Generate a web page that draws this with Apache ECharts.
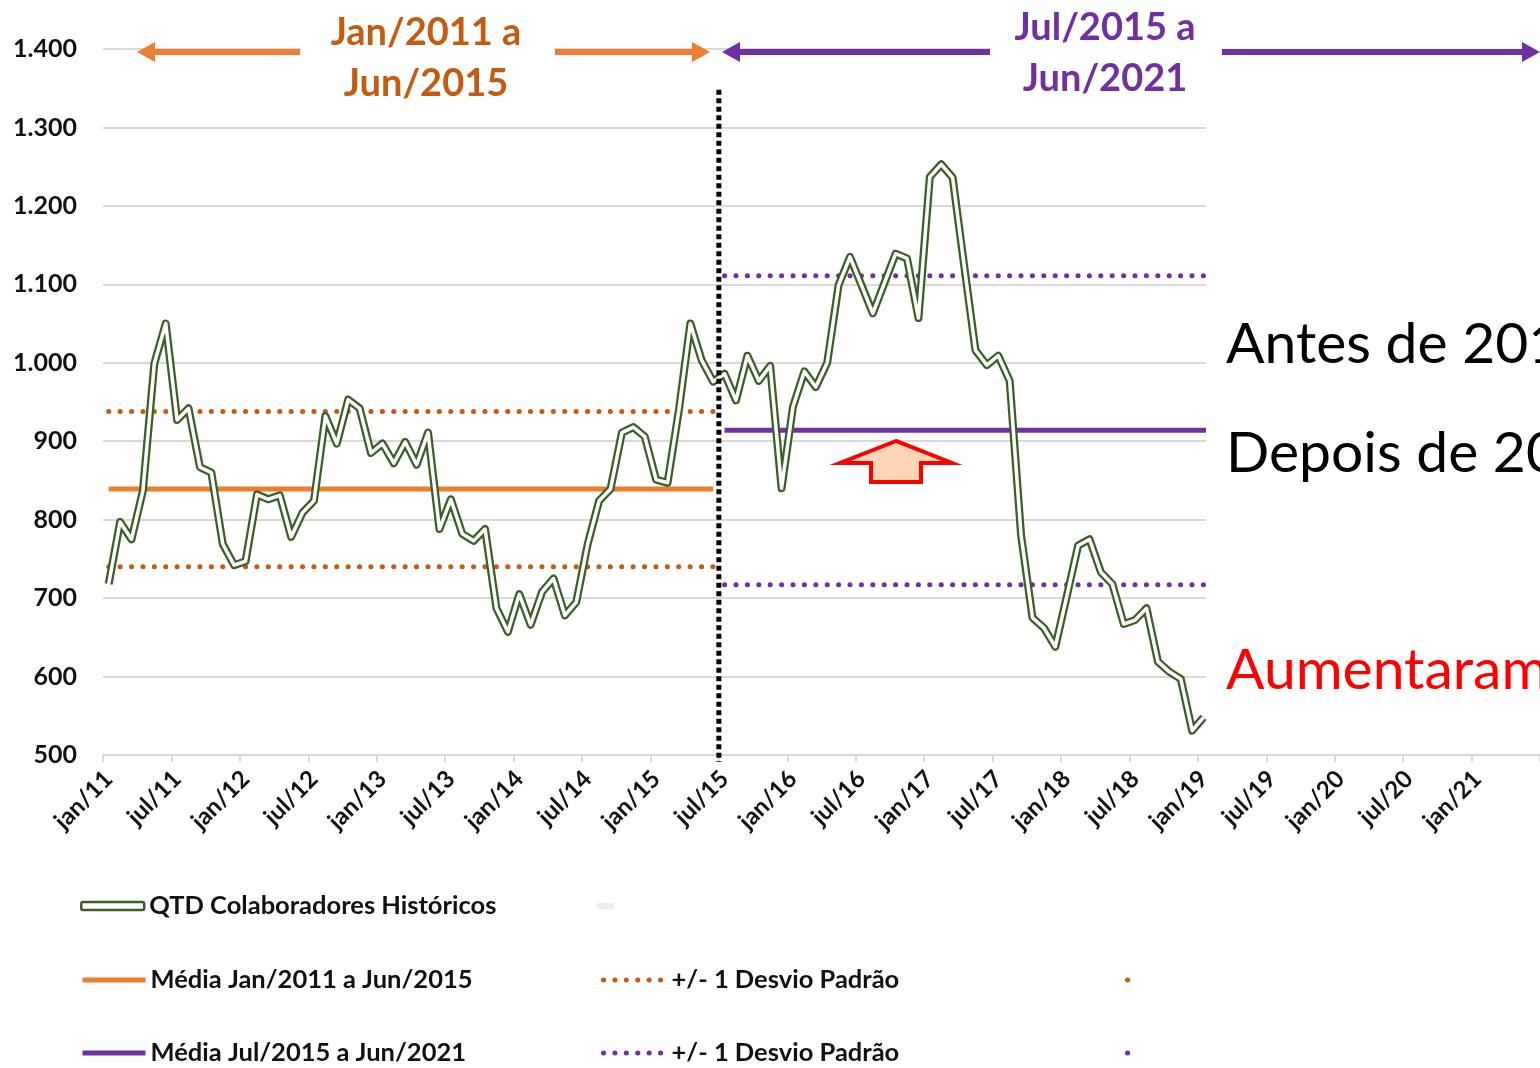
<!DOCTYPE html>
<html>
<head>
<meta charset="utf-8">
<title>QTD Colaboradores</title>
<script src="https://cdn.jsdelivr.net/npm/echarts@6/dist/echarts.min.js"></script>
<style>
  html, body { margin: 0; padding: 0; background: #fff; }
  #chart { width: 1540px; height: 1068px; }
</style>
</head>
<body>
<div id="chart"></div>
<script>
// month labels, jan/11 .. jun/21
const MONTHS = ["jan", "fev", "mar", "abr", "mai", "jun", "jul", "ago", "set", "out", "nov", "dez"];
const YEARS = ["11", "12", "13", "14", "15", "16", "17", "18", "19", "20", "21"];
const CATS = [];
YEARS.forEach(y => MONTHS.forEach(m => CATS.push(m + "/" + y)));
CATS.length = CATS.indexOf("jun/21") + 1;

// QTD colaboradores, monthly from jan/11
const QTD = [
  718, 797, 775, 837, 999, 1050, 927, 942, 867, 860, 769, 742,
  747, 832, 826, 831, 778, 809, 824, 932, 897, 953, 942, 885,
  897, 872, 899, 870, 911, 788, 826, 782, 773, 788, 687, 657,
  705, 666, 708, 725, 678, 695, 769, 824, 839, 911, 918, 906,
  851, 847, 940, 1050, 1003, 976, 986, 952, 1009, 977, 996, 840,
  944, 989, 969, 1000, 1099, 1135, 1099, 1063, 1101, 1139, 1133, 1057,
  1237, 1253, 1236, 1125, 1016, 997, 1009, 977, 780, 675, 662, 638,
  702, 767, 775, 733, 718, 667, 672, 687, 619, 606, 597, 531,
  548
];

const PERIOD_A = ["jan/11", "jun/15"];
const PERIOD_B = ["jul/15", "jun/21"];
const MEAN_A = 839, SD_A = [938, 740];
const MEAN_B = 914, SD_B = [1111, 717];
const Y_MIN = 500, Y_MAX = 1400, Y_STEP = 100;

const GREEN = "#3B5E27";
const ORANGE = "#ED7D31";
const ORANGE_DK = "#C55A11";
const PURPLE = "#7030A0";
const GRID = "#D9D9D9";
const FONT = "Lato";

const chart = echarts.init(document.getElementById("chart"));

function flat(period, v) {
  return [[period[0], v], [period[1], v]];
}
const dots = (color) => ({ color: color, width: 5, type: [0.1, 11.3], cap: "round" });

function arrow(xFrom, xTip, y, color) {
  const dir = xTip > xFrom ? 1 : -1;
  const base = xTip - dir * 18;
  return [
    { type: "line", z: 110, shape: { x1: xFrom, y1: y, x2: base, y2: y },
      style: { stroke: color, lineWidth: 6 } },
    { type: "polygon", z: 110, shape: { points: [[xTip, y], [base, y - 10], [base, y + 10]] },
      style: { fill: color } }
  ];
}

function legendAt(left, top, name, extra) {
  return Object.assign({
    left: left, top: top, padding: 0, orient: "horizontal",
    itemWidth: 63, itemHeight: 8, selectedMode: false,
    textStyle: { fontFamily: FONT, fontWeight: "bold", fontSize: 25.5, color: "#111" },
    lineStyle: { width: 5 },
    itemStyle: { opacity: 0 },
    data: [name]
  }, extra || {});
}

const option = {
  animation: false,
  backgroundColor: "#fff",
  grid: { left: 103, top: 49, width: 1439, height: 706, containLabel: false },
  xAxis: [{
    type: "category",
    data: CATS,
    boundaryGap: true,
    axisLine: { lineStyle: { color: GRID, width: 2 } },
    axisTick: { show: true, interval: 5, length: 7, lineStyle: { color: GRID, width: 2 } },
    axisLabel: {
      interval: 5, rotate: 45, margin: 20,
      fontFamily: FONT, fontWeight: "bold", fontSize: 24, color: "#111"
    },
    splitLine: { show: false }
  }, {
    type: "value", min: 0, max: CATS.length, show: false
  }],
  yAxis: {
    type: "value",
    min: Y_MIN, max: Y_MAX, interval: Y_STEP,
    axisLine: { show: false },
    axisTick: { show: false },
    axisLabel: {
      margin: 26,
      fontFamily: FONT, fontWeight: "bold", fontSize: 25, color: "#111",
      formatter: v => v >= 1000 ? Math.floor(v / 1000) + "." + String(v % 1000).padStart(3, "0") : String(v)
    },
    splitLine: { lineStyle: { color: GRID, width: 2 } }
  },
  legend: [
    legendAt(80, 893, { name: "QTD Colaboradores Históricos", icon: "roundRect",
      itemStyle: { color: "#fff", borderColor: GREEN, borderWidth: 2.5, opacity: 1 } }),
    legendAt(597, 903, { name: "\u2060", icon: "rect", itemStyle: { color: "#EEEEEE", opacity: 1 } },
      { itemWidth: 17, itemHeight: 6, formatter: () => "" }),
    legendAt(80, 967, "Média Jan/2011 a Jun/2015"),
    legendAt(601, 967, "+/- 1 Desvio Padrão"),
    legendAt(1125, 976, "\u200b", { itemWidth: 4, formatter: () => "" }),
    legendAt(80, 1040, "Média Jul/2015 a Jun/2021"),
    legendAt(601, 1040, "+/- 1 Desvio Padrão "),
    legendAt(1125, 1049, "\u200b\u200b", { itemWidth: 4, formatter: () => "" })
  ],
  series: [
    {
      name: "Média Jan/2011 a Jun/2015", type: "line", symbol: "none", z: 3,
      data: flat(PERIOD_A, MEAN_A), lineStyle: { color: ORANGE, width: 5 }, itemStyle: { color: ORANGE }
    },
    {
      name: "+/- 1 Desvio Padrão", type: "line", symbol: "none", z: 3,
      data: flat(PERIOD_A, SD_A[0]), lineStyle: dots(ORANGE_DK), itemStyle: { color: ORANGE_DK }
    },
    {
      name: "\u200b", type: "line", symbol: "none", z: 3,
      data: flat(PERIOD_A, SD_A[1]), lineStyle: dots(ORANGE_DK), itemStyle: { color: ORANGE_DK }
    },
    {
      name: "Média Jul/2015 a Jun/2021", type: "line", symbol: "none", z: 3,
      data: flat(PERIOD_B, MEAN_B), lineStyle: { color: PURPLE, width: 5 }, itemStyle: { color: PURPLE }
    },
    {
      name: "+/- 1 Desvio Padrão ", type: "line", symbol: "none", z: 3,
      data: flat(PERIOD_B, SD_B[0]), lineStyle: dots(PURPLE), itemStyle: { color: PURPLE }
    },
    {
      name: "\u200b\u200b", type: "line", symbol: "none", z: 3,
      data: flat(PERIOD_B, SD_B[1]), lineStyle: dots(PURPLE), itemStyle: { color: PURPLE }
    },
    {
      name: "QTD Colaboradores Históricos", type: "line", symbol: "none", z: 5,
      data: QTD, lineStyle: { color: GREEN, width: 8, join: "round" }, itemStyle: { color: GREEN }
    },
    {
      name: "qtd-inner", type: "line", symbol: "none", z: 6, silent: true,
      data: QTD, lineStyle: { color: "#fff", width: 3.5, join: "round" }
    },
    {
      // divider between the two periods
      name: "\u2060", type: "line", symbol: "none", z: 7, clip: false,
      xAxisIndex: 1,
      data: [[CATS.indexOf(PERIOD_B[0]), 1348], [CATS.indexOf(PERIOD_B[0]), 491]],
      lineStyle: { color: "#000", width: 5, type: [5, 3.5] }, itemStyle: { color: "#000" }
    }
  ],
  graphic: [
    // white panel on the right with the notes
    { type: "rect", z: 100, shape: { x: 1206, y: 44, width: 340, height: 704 }, style: { fill: "#fff" } },
    { type: "rect", z: 100, shape: { x: 301, y: 0, width: 253, height: 110 }, style: { fill: "#fff" } },
    { type: "rect", z: 100, shape: { x: 991, y: 0, width: 230, height: 110 }, style: { fill: "#fff" } },
    ...arrow(300, 137, 52, ORANGE),
    ...arrow(555, 710, 52, ORANGE),
    ...arrow(990, 722, 52, PURPLE),
    ...arrow(1222, 1540, 52, PURPLE),
    { type: "text", z: 120, x: 426, y: 33,
      style: { text: "Jan/2011 a", fill: ORANGE_DK, font: "bold 38px " + FONT, align: "center", verticalAlign: "middle" } },
    { type: "text", z: 120, x: 426, y: 84,
      style: { text: "Jun/2015", fill: ORANGE_DK, font: "bold 38px " + FONT, align: "center", verticalAlign: "middle" } },
    { type: "text", z: 120, x: 1105, y: 28,
      style: { text: "Jul/2015 a", fill: PURPLE, font: "bold 38px " + FONT, align: "center", verticalAlign: "middle" } },
    { type: "text", z: 120, x: 1105, y: 79,
      style: { text: "Jun/2021", fill: PURPLE, font: "bold 38px " + FONT, align: "center", verticalAlign: "middle" } },
    { type: "text", z: 120, x: 1226, y: 345,
      style: { text: "Antes de 2015", fill: "#000", font: "57px " + FONT, verticalAlign: "middle" } },
    { type: "text", z: 120, x: 1226, y: 454,
      style: { text: "Depois de 2015", fill: "#000", font: "57px " + FONT, verticalAlign: "middle" } },
    { type: "text", z: 120, x: 1226, y: 671,
      style: { text: "Aumentaram", fill: "#FF0000", font: "57px " + FONT, verticalAlign: "middle" } },
    // red arrow pointing up at the new mean
    { type: "polygon", z: 120,
      shape: { points: [[896, 441], [840, 463], [871, 463], [871, 482], [921, 482], [921, 463], [952, 463]] },
      style: { fill: "#FBD5B5", stroke: "#FF0000", lineWidth: 4, lineJoin: "miter" } }
  ]
};

chart.setOption(option);
</script>
</body>
</html>
